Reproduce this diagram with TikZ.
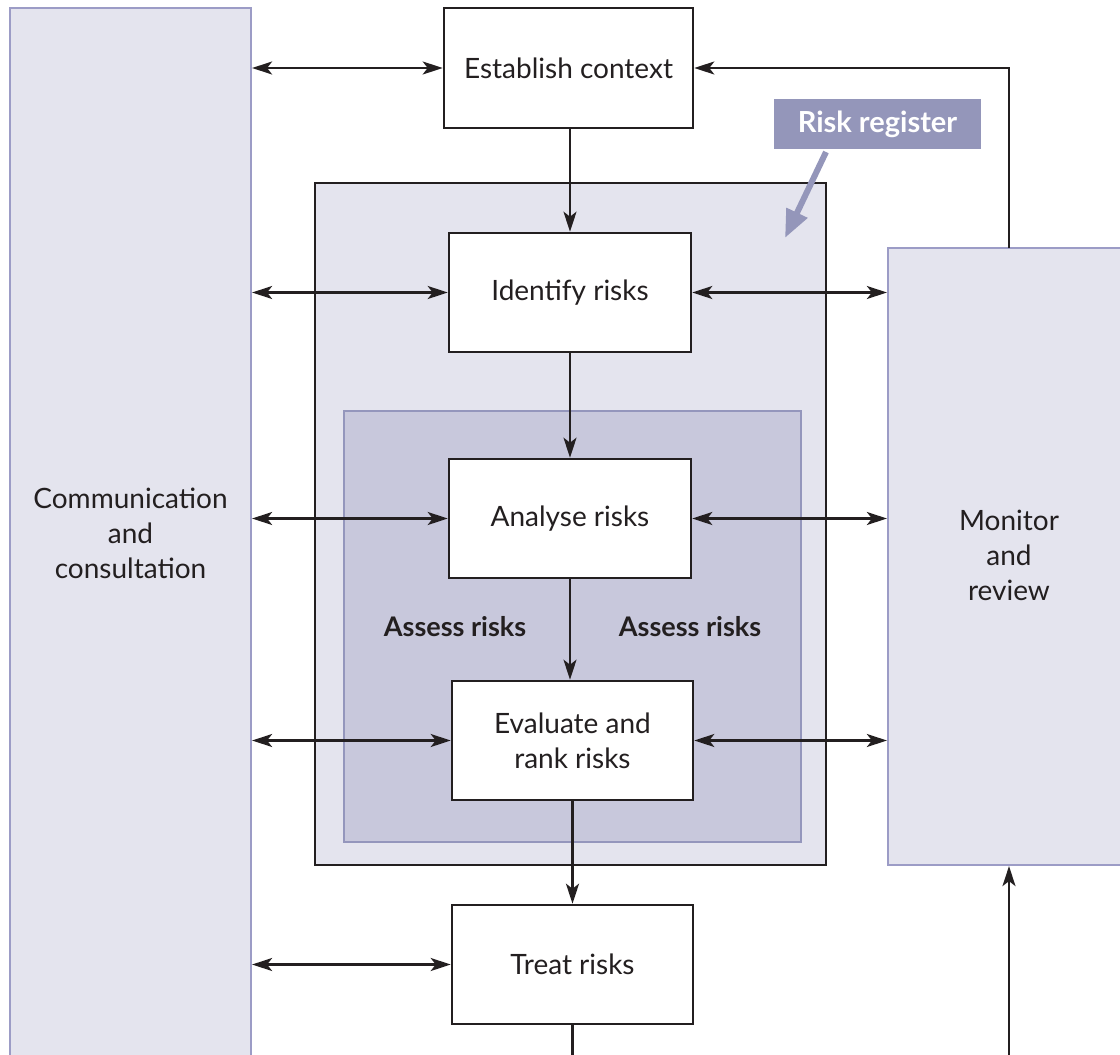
\documentclass[tikz,border=0pt]{standalone}
\usepackage{fontspec}
\setmainfont{Lato}
\usetikzlibrary{arrows.meta}
\definecolor{panelfill}{HTML}{E4E4EE}
\definecolor{panelline}{HTML}{9C9CC6}
\definecolor{innerfill}{HTML}{C8C8DC}
\definecolor{innerline}{HTML}{9496BC}
\definecolor{regfill}{HTML}{9496BA}
\definecolor{ink}{HTML}{231F20}
\begin{document}
\begin{tikzpicture}[x=1pt,y=-1pt,
  txt/.style={font=\fontsize{28}{35}\selectfont, text=ink, align=center},
  panel/.style={draw=panelline, line width=2.2pt, fill=panelfill, inner sep=0pt, txt},
  stepbox/.style={draw=ink, line width=2.6pt, fill=white, inner sep=0pt, txt},
  conn/.style={draw=ink, line width=2.4pt},
  tip/.style={-{Stealth[length=20pt,width=13pt,inset=5pt]}},
  tips/.style={{Stealth[length=20pt,width=13pt,inset=5pt]}-{Stealth[length=20pt,width=13pt,inset=5pt]}}
]
\useasboundingbox (0,0) rectangle (1120,1055);
\clip (0,0) rectangle (1120,1055);
% side panels
\node[panel, minimum width=241pt, minimum height=1050pt] (comm) at (130.5,533) {Communication\\and\\consultation};
\node[panel, minimum width=252pt, minimum height=617pt] (mon) at (1014,556.5) {};
\node[txt] (montxt) at (1009,555) {Monitor\\and\\review};
% register and assess boxes
\node[draw=ink, line width=2.8pt, fill=panelfill, minimum width=511pt, minimum height=682pt, inner sep=0pt] (reg) at (570.5,524) {};
\node[draw=innerline, line width=2.2pt, fill=innerfill, minimum width=457pt, minimum height=431pt, inner sep=0pt] (assess) at (572.5,626.5) {};
% step boxes
\node[stepbox, minimum width=249pt, minimum height=120pt] (est) at (568.5,68) {Establish context};
\node[stepbox, minimum width=242pt, minimum height=119pt] (ident) at (570,292.5) {Identify risks};
\node[stepbox, minimum width=242pt, minimum height=119pt] (anal) at (570,518.5) {Analyse risks};
\node[stepbox, minimum width=241pt, minimum height=119pt] (eval) at (572.5,740.5) {Evaluate and\\rank risks};
\node[stepbox, minimum width=241pt, minimum height=119pt] (treat) at (572.5,964.5) {Treat risks};
% assess labels
\node[txt, font=\fontsize{27}{32}\selectfont\bfseries] (al) at (455,627) {Assess risks};
\node[txt, font=\fontsize{27}{32}\selectfont\bfseries] (ar) at (690,627) {Assess risks};
% risk register label
\node[fill=regfill, text=white, font=\fontsize{29}{34}\selectfont\bfseries, minimum width=207pt, minimum height=50pt, inner sep=0pt] (rlab) at (877.5,124) {Risk register};
\coordinate (rtip) at (785,238);
\draw[regfill, line width=6pt, -{Triangle[length=28pt,width=22pt]}] (826,152) -- (rtip);
% vertical flow
\draw[conn, tip] (ident.north |- est.south) -- (ident.north);
\draw[conn, tip] (ident.south) -- (anal.north);
\draw[conn, tip] (anal.south) -- (anal.south |- eval.north);
\draw[conn, tip] (eval.south) -- (treat.north);
\coordinate (tb) at (572.5,1060);
\draw[conn] (treat.south) -- (tb);
% left double arrows
\draw[conn, tips] (comm.east |- est.west) -- (est.west);
\draw[conn, tips] (comm.east |- ident.west) -- (ident.west);
\draw[conn, tips] (comm.east |- anal.west) -- (anal.west);
\draw[conn, tips] (comm.east |- eval.west) -- (eval.west);
\draw[conn, tips] (comm.east |- treat.west) -- (treat.west);
% right double arrows
\draw[conn, tips] (ident.east) -- (ident.east -| mon.west);
\draw[conn, tips] (anal.east) -- (anal.east -| mon.west);
\draw[conn, tips] (eval.east) -- (eval.east -| mon.west);
% monitor feedback
\coordinate (mtop) at (1009,248);
\draw[conn, tip] (mtop) |- (est.east);
\coordinate (mbot) at (1009,1060);
\draw[conn, tip] (mbot) -- (mbot |- mon.south);
\end{tikzpicture}
\end{document}
